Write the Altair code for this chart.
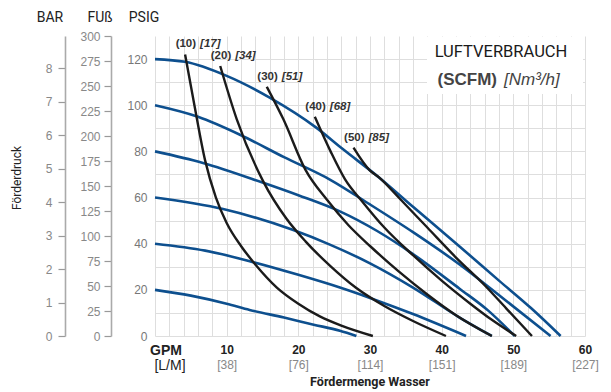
import altair as alt
import pandas as pd

# ---------------- data ----------------
GPM_MAX = 60
PSI_MAX = 130
BAR_MAX = PSI_MAX / 14.5038
FT_MAX = PSI_MAX * 2.3089

blue_pressures = [120, 100, 80, 60, 40, 20]
blue_gpm = [
    [0, 4.2, 10, 16, 22.5, 26.2, 31.3, 36, 42.5, 48, 52.5, 56.6],
    [0, 6, 12, 18, 24.4, 30, 36, 42.5, 48.5, 55.2],
    [0, 6.7, 15, 20, 25.8, 31, 36, 42.5, 46.5, 50.2],
    [0, 9.5, 19.2, 24.4, 30, 36, 42.5, 47.0],
    [0, 7, 13.7, 20, 25.8, 30, 36, 43.4],
    [0, 5, 10, 13.2, 18, 22, 25.8, 28.1],
]
blue_psi = [
    [120, 118.8, 112.7, 103.3, 90.3, 81, 68.6, 56, 38.8, 24, 12, 0],
    [100, 95, 87, 77.5, 67.8, 57, 45, 31, 16.5, 0],
    [80, 75, 66.5, 61, 54, 45.5, 35.5, 20.5, 11, 0],
    [60, 55, 46, 39.6, 31.5, 21, 8, 0],
    [40, 37, 32, 26.5, 21, 16.5, 9.5, 0],
    [20, 17.5, 14, 11.3, 8, 5, 2.3, 0],
]

black_scfm = [10, 20, 30, 40, 50]
black_nm3h = [17, 34, 51, 68, 85]
black_gpm = [
    [4.2, 5.5, 7, 8.5, 10, 12, 14, 17, 20, 23, 26, 30.4],
    [9.1, 11.4, 15.1, 18.3, 21, 24.4, 28, 32, 36, 40.6],
    [15.6, 17.9, 21, 24, 27, 30, 34, 38, 42, 47],
    [22.3, 24.5, 26.5, 29, 32, 36, 40, 44, 47, 50.4],
    [27.7, 29.9, 31.3, 34, 38, 42, 46, 49, 52.6],
]
black_psi = [
    [122, 100, 76, 60, 49, 39, 31, 21, 14, 8.5, 4.5, 0],
    [117, 94, 67, 51, 41, 30.5, 21, 13, 6.5, 0],
    [108, 94, 72, 59, 48, 39, 28, 18, 9, 0],
    [95, 80, 68, 58, 47, 35, 24, 14, 7, 0],
    [81.6, 72, 68.6, 60, 47, 34, 22, 12, 0],
]

gpm_ticks = [10, 20, 30, 40, 50, 60]
lpm_labels = ["[38]", "[76]", "[114]", "[151]", "[189]", "[227]"]
psig_ticks = [0, 20, 40, 60, 80, 100, 120]
bar_ticks = [0, 1, 2, 3, 4, 5, 6, 7, 8]
ft_ticks = [0, 25, 50, 75, 100, 125, 150, 175, 200, 225, 250, 275, 300]

# ---------------- tables ----------------
blue_rows = []
for p, xs, ys in zip(blue_pressures, blue_gpm, blue_psi):
    for i, (x, y) in enumerate(zip(xs, ys)):
        blue_rows.append({"series": f"b{p}", "gpm": x, "psi": y, "o": i})
blue_df = pd.DataFrame(blue_rows)

black_rows = []
for s, xs, ys in zip(black_scfm, black_gpm, black_psi):
    for i, (x, y) in enumerate(zip(xs, ys)):
        black_rows.append({"series": f"k{s}", "gpm": x, "psi": y, "o": i})
black_df = pd.DataFrame(black_rows)

lab_df = pd.DataFrame({
    "gpm": [xs[0] for xs in black_gpm],
    "psi": [ys[0] for ys in black_psi],
    "l1": [f"({s})" for s in black_scfm],
    "l2": [f"[{n}]" for n in black_nm3h],
})

W, H = 430, 300
FONT = "Liberation Sans"
NARROW = "Roboto"
BLUE = "#0d4f8e"
BLACK = "#1b1b1b"

xscale = alt.Scale(domain=[0, GPM_MAX], nice=False, zero=False)
yscale = alt.Scale(domain=[0, PSI_MAX], nice=False)

grid_vals = list(range(0, GPM_MAX + 1, 2))
psig_grid = list(range(0, 121, 10))

x_main = alt.X(
    "gpm:Q", scale=xscale,
    axis=alt.Axis(
        values=grid_vals,
        labelExpr=f"indexof({gpm_ticks}, datum.value) >= 0 ? datum.label : ''",
        grid=True, gridColor="#dedede", gridWidth=1,
        ticks=False, domain=False, title=None,
        labelFont=FONT, labelFontWeight="bold", labelFontSize=12,
        labelColor="#222", labelPadding=8, labelFlush=False,
    ),
)
y_main = alt.Y(
    "psi:Q", scale=yscale,
    axis=alt.Axis(
        values=psig_grid,
        labelExpr=f"indexof({psig_ticks}, datum.value) >= 0 ? datum.label : ''",
        grid=True, gridColor="#dedede", gridWidth=1,
        ticks=False, domain=False, title=None,
        labelFont=FONT, labelFontSize=12, labelColor="#777", labelPadding=8,
    ),
)

x_plain = alt.X("gpm:Q", scale=xscale, axis=None)
y_plain = alt.Y("psi:Q", scale=yscale, axis=None)

blue_layer = alt.Chart(blue_df).mark_line(
    interpolate="monotone", strokeWidth=2.6, color=BLUE
).encode(x=x_main, y=y_main, detail="series:N", order="o:Q")

black_layer = alt.Chart(black_df).mark_line(
    interpolate="monotone", strokeWidth=2.4, color=BLACK
).encode(x=x_plain, y=y_plain, detail="series:N", order="o:Q")

lab1 = alt.Chart(lab_df).mark_text(
    align="right", baseline="middle", dx=11, dy=-10,
    font=FONT, fontSize=11.5, fontWeight="bold", color="#333"
).encode(x=x_plain, y=y_plain, text="l1:N")
lab2 = alt.Chart(lab_df).mark_text(
    align="left", baseline="middle", dx=15, dy=-10,
    font=FONT, fontSize=11.5, fontWeight="bold", fontStyle="italic", color="#333"
).encode(x=x_plain, y=y_plain, text="l2:N")

# secondary left axes (BAR, FUß)
bar_df = pd.DataFrame({"bar": bar_ticks})
bar_layer = alt.Chart(bar_df).mark_point(opacity=0).encode(
    y=alt.Y("bar:Q", scale=alt.Scale(domain=[0, BAR_MAX], nice=False),
            axis=alt.Axis(orient="left", offset=90, values=bar_ticks, title=None,
                          grid=False, tickSize=7, tickColor="#999", tickWidth=1.2,
                          domainColor="#aaa", domainWidth=1.6,
                          labelFont=FONT, labelFontSize=12, labelColor="#888",
                          labelPadding=6))
)
ft_df = pd.DataFrame({"ft": ft_ticks})
ft_layer = alt.Chart(ft_df).mark_point(opacity=0).encode(
    y=alt.Y("ft:Q", scale=alt.Scale(domain=[0, FT_MAX], nice=False),
            axis=alt.Axis(orient="left", offset=44, values=ft_ticks, title=None,
                          grid=False, tickSize=7, tickColor="#999", tickWidth=1.2,
                          domainColor="#aaa", domainWidth=1.6,
                          labelFont=FONT, labelFontSize=12, labelColor="#888",
                          labelPadding=4))
)

# L/M secondary x axis
lpm_expr = " : ".join(
    [f"datum.value == {v} ? '{l}'" for v, l in zip(gpm_ticks, lpm_labels)]
) + " : ''"
lpm_df = pd.DataFrame({"gpm": gpm_ticks})
lpm_layer = alt.Chart(lpm_df).mark_point(opacity=0).encode(
    x=alt.X("gpm:Q", scale=xscale,
            axis=alt.Axis(orient="bottom", values=gpm_ticks, labelExpr=lpm_expr,
                          grid=False, ticks=False, domain=False, title=None,
                          labelFont=FONT, labelFontSize=12, labelColor="#888",
                          labelPadding=23, labelFlush=False))
)


def txt(s, x, y, size=12, weight="normal", style="normal", color="#222",
        align="center", angle=0, font=FONT):
    return alt.Chart(pd.DataFrame({"t": [s]})).mark_text(
        align=align, baseline="middle", fontSize=size, fontWeight=weight,
        fontStyle=style, color=color, angle=angle, font=font
    ).encode(x=alt.value(x), y=alt.value(y), text="t:N")


white_box = alt.Chart(pd.DataFrame({"a": [0]})).mark_rect(color="white").encode(
    x=alt.value(272), x2=alt.value(428), y=alt.value(1), y2=alt.value(58)
)

texts = [
    txt("BAR", -105, -18, size=14, font=NARROW),
    txt("FUß", -55, -18, size=14, font=NARROW),
    txt("PSIG", -11, -18, size=14, font=NARROW),
    txt("Förderdruck", -138, 142, size=12, angle=270, font=NARROW),
    txt("GPM", 11, 15 + H, size=14, weight="bold", color="#222"),
    txt("[L/M]", 15, 30 + H, size=14, color="#222"),
    txt("Fördermenge Wasser", 215, 46 + H, size=12.5, weight="bold", font=NARROW),
    txt("LUFTVERBRAUCH", 346, 16, size=16.5, font=NARROW, color="#1a1a1a"),
    txt("(SCFM)", 342, 44, size=17, weight="bold", color="#444", align="right"),
    txt("[Nm³/h]", 349, 44, size=17, style="italic", color="#444", align="left"),
]

chart = alt.layer(
    blue_layer, bar_layer, ft_layer, lpm_layer, white_box,
    black_layer, lab1, lab2, *texts
).resolve_scale(
    x="independent", y="independent"
).properties(
    width=W, height=H,
    autosize=alt.AutoSizeParams(type="none"),
    padding={"left": 147, "top": 28, "right": 16, "bottom": 56},
).configure_view(stroke=None)

chart.save("out.html", embed_options={"renderer": "svg", "actions": False})
